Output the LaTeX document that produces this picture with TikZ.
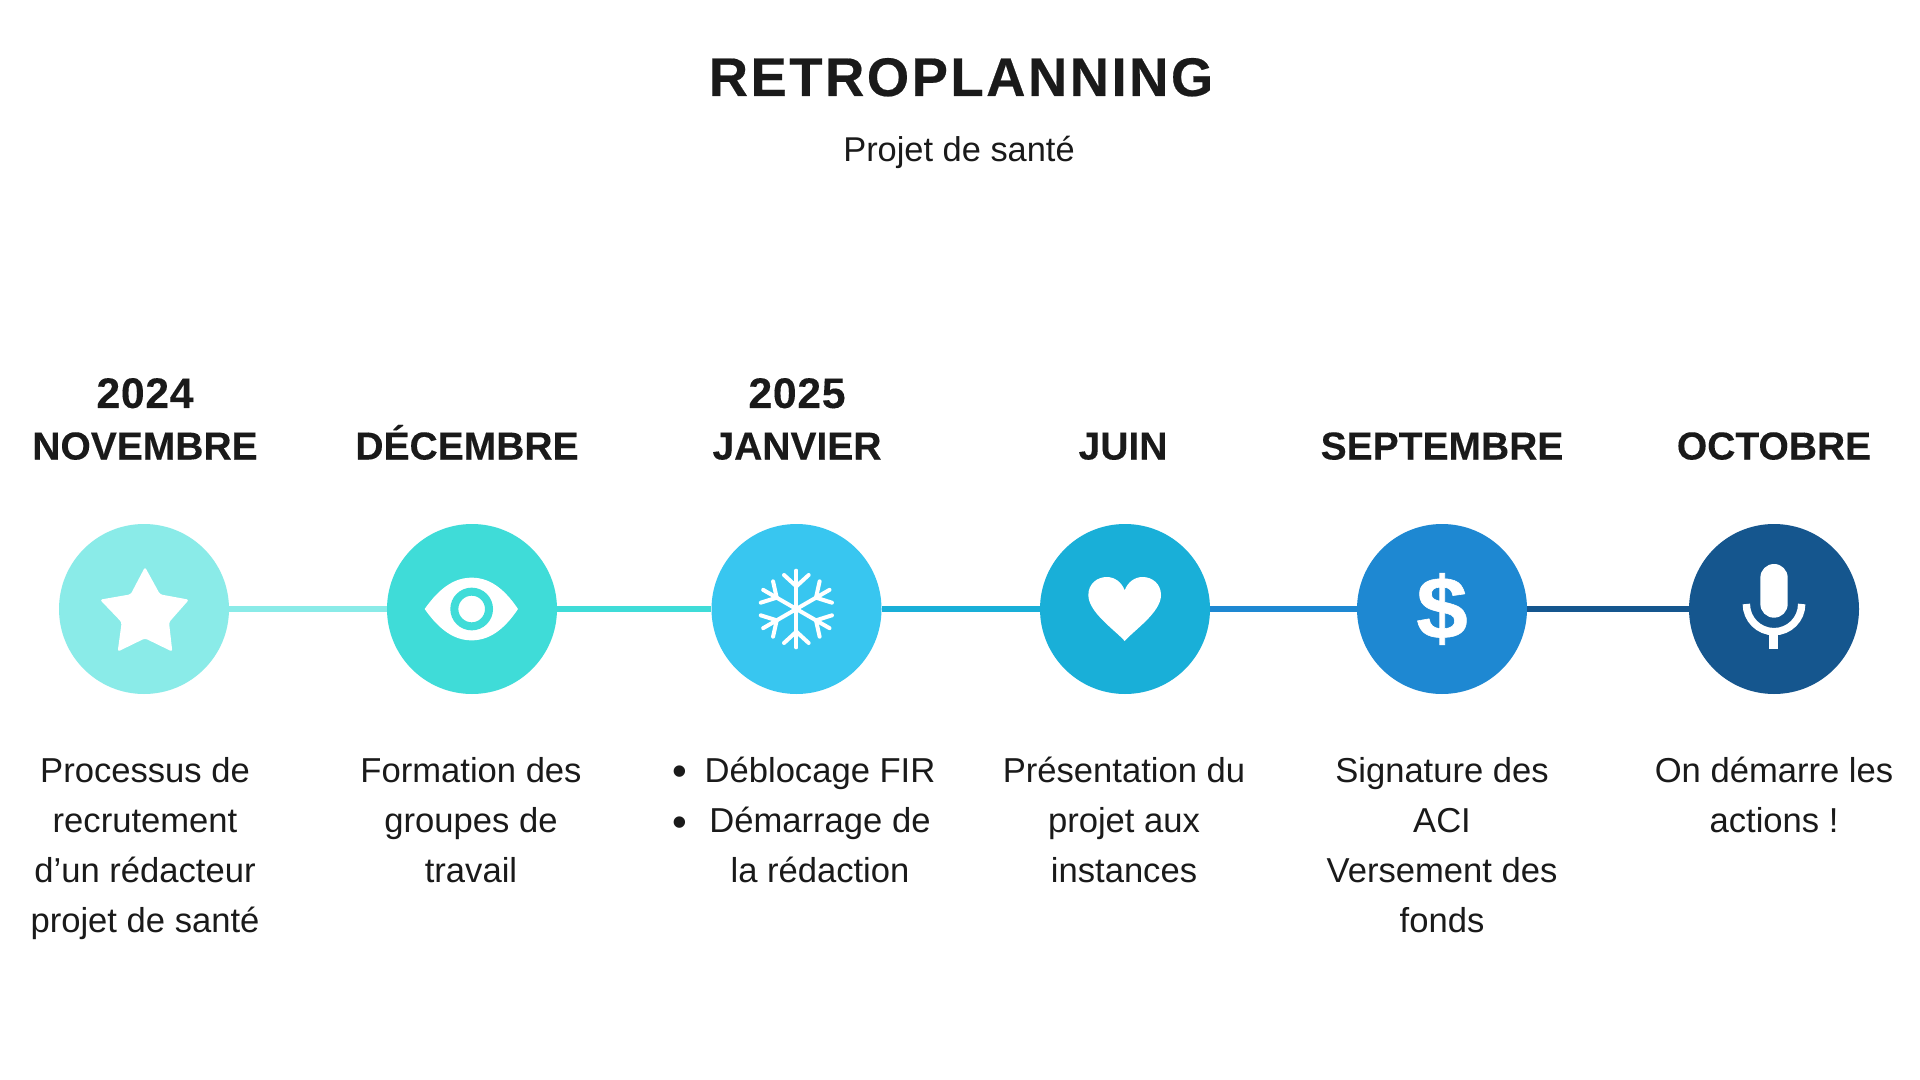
\documentclass[tikz,border=0pt]{standalone}
\usepackage{fontspec}
\setmainfont{Liberation Sans}
\newfontfamily\titlefamily[BoldFeatures={LetterSpace=4.6,FakeBold=0.35}]{Liberation Sans}
\newfontfamily\headfamily[BoldFeatures={FakeBold=0.15}]{Liberation Sans}
\newfontfamily\yearfamily[BoldFeatures={LetterSpace=1.5,FakeBold=0.15}]{Liberation Sans}
\newfontfamily\heavyfamily[BoldFeatures={FakeBold=0.7}]{Liberation Sans}
\definecolor{ink}{HTML}{1A1A1A}
\definecolor{cA}{HTML}{8AEBE8}
\definecolor{cB}{HTML}{3FDCD8}
\definecolor{cC}{HTML}{38C6F0}
\definecolor{cD}{HTML}{19AFD8}
\definecolor{cE}{HTML}{1E88D2}
\definecolor{cF}{HTML}{15568E}
\tikzset{
  disc/.style={circle,inner sep=0pt,minimum size=85pt,fill=#1},
  link/.style={draw=#1,line width=3pt},
  titletext/.style={text=ink,inner sep=0pt,anchor=base,font=\titlefamily\bfseries\fontsize{27.2}{32}\selectfont},
  subtext/.style={text=ink,inner sep=0pt,anchor=base,font=\fontsize{17.2}{20}\selectfont},
  heading/.style={text=ink,inner sep=0pt,anchor=base,align=center,font=\headfamily\bfseries\fontsize{19.5}{25.5}\selectfont},
  yeartext/.style={text=ink,inner sep=0pt,anchor=base,align=center,font=\yearfamily\bfseries\fontsize{21.4}{25.5}\selectfont},
  body/.style={text=ink,inner sep=0pt,anchor=north,align=center,font=\fontsize{17.3}{25}\selectfont},
  bullet/.style={text=ink,inner sep=0pt,anchor=center,font=\fontsize{21}{25}\selectfont},
  icon/.style={fill=white,draw=none},
  zoomed/.style={x=0.16667pt,y=-0.16667pt}
}
\newcommand{\lead}{\vphantom{Ég}}
\begin{document}
\begin{tikzpicture}[x=0.5pt,y=-0.5pt]
\useasboundingbox (0,0) rectangle (1920,1080);
\fill[white] (0,0) rectangle (1920,1080);

\node[titletext] (title) at (961,96) {RETROPLANNING};
\node[subtext] (sub) at (959,162) {Projet de santé};

\node[disc=cA] (c1) at (144,609) {};
\node[disc=cB] (c2) at (472,609) {};
\node[disc=cC] (c3) at (796.5,609) {};
\node[disc=cD] (c4) at (1125,609) {};
\node[disc=cE] (c5) at (1442,609) {};
\node[disc=cF] (c6) at (1774,609) {};

\draw[link=cA] (c1) -- (c2);
\draw[link=cB] (c2) -- (c3);
\draw[link=cD] (c3) -- (c4);
\draw[link=cE] (c4) -- (c5);
\draw[link=cF] (c5) -- (c6);

% headings
\node[yeartext] (y1) at (145,408) {2024};
\node[heading] (h1) at (145,459.5) {NOVEMBRE};
\node[heading] (h2) at (467,459.5) {DÉCEMBRE};
\node[yeartext] (y3) at (797,408) {2025};
\node[heading] (h3) at (797,459.5) {JANVIER};
\node[heading] (h4) at (1123,459.5) {JUIN};
\node[heading] (h5) at (1442,459.5) {SEPTEMBRE};
\node[heading] (h6) at (1774,459.5) {OCTOBRE};

% bodies
\node[body] (b1) at (145,752) {\lead Processus de\\recrutement\\d’un rédacteur\\projet de santé};
\node[body] (b2) at (471,752) {\lead Formation des\\groupes de\\travail};
\node[body] (b3) at (820,752) {\lead Déblocage FIR\\Démarrage de\\la rédaction};
\node[bullet] (d1) at (680,776) {•};
\node[bullet] (d2) at (680,827) {•};
\node[body] (b4) at (1124,752) {\lead Présentation du\\projet aux\\instances};
\node[body] (b5) at (1442,752) {\lead Signature des\\ACI\\Versement des\\fonds};
\node[body] (b6) at (1774,752) {\lead On démarre les\\actions !};

% star
\begin{scope}[shift={(60,525)},zoomed]
\fill[icon,rounded corners=1.2pt] (255,126) -- (300,208) -- (387,224) -- (327,292) -- (337,380) -- (255,340) -- (173,380) -- (185,292) -- (120,224) -- (212,208) -- cycle;
\end{scope}

% eye
\begin{scope}[shift={(387,525)},zoomed]
\fill[icon] (113,252) .. controls (160,185) and (205,158) .. (254,158) .. controls (303,158) and (348,185) .. (393,252) .. controls (348,319) and (303,346) .. (254,346) .. controls (205,346) and (160,319) .. (113,252) -- cycle;
\draw[cB,line width=4pt] (254,252) circle (52);
\end{scope}

% snowflake
\begin{scope}[shift={(711,525)},zoomed]
\coordinate (fc) at (256,252);
\foreach \a in {90,30,-30,-90,-150,150}{
  \begin{scope}[shift={(fc)},rotate=\a]
  \draw[white,line width=2pt,line cap=round] (0,0) -- (115,0);
  \draw[white,line width=2pt,line cap=round] (68,0) -- (102,-37);
  \draw[white,line width=2pt,line cap=round] (68,0) -- (102,37);
  \end{scope}
}
\end{scope}

% heart
\begin{scope}[shift={(1040,525)},zoomed]
\fill[icon] (254,348) .. controls (225,315) and (145,262) .. (145,210) .. controls (145,176) and (172,156) .. (200,156) .. controls (225,156) and (245,172) .. (254,196) .. controls (263,172) and (283,156) .. (308,156) .. controls (336,156) and (363,176) .. (363,210) .. controls (363,262) and (283,315) .. (254,348) -- cycle;
\end{scope}

% dollar
\node[text=white,inner sep=0pt,xscale=1.05,font=\heavyfamily\bfseries\fontsize{44}{48}\selectfont] (dollar) at (1442,609) {\$};

% microphone
\begin{scope}[shift={(1689,525)},zoomed]
\fill[icon,rounded corners=6.8pt] (214,117) rectangle (296,278);
\draw[white,line width=3.7pt] (172,237) arc[start angle=180,end angle=0,radius=83];
\fill[icon] (240,318) rectangle (268,372);
\end{scope}
\end{tikzpicture}
\end{document}
